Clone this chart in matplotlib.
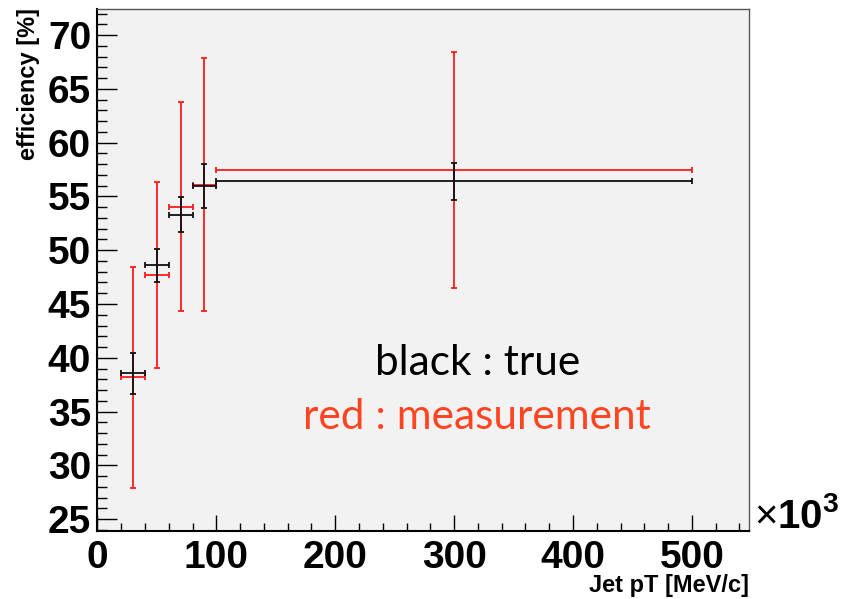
import numpy as np
import matplotlib
matplotlib.use("Agg")
import matplotlib.pyplot as plt
from matplotlib.ticker import MultipleLocator

plt.rcParams['font.family'] = ['Liberation Sans', 'DejaVu Sans']
plt.rcParams['mathtext.fontset'] = 'custom'
plt.rcParams['mathtext.rm'] = 'Liberation Sans'
plt.rcParams['mathtext.bf'] = 'Liberation Sans:bold'

# bin centres and half widths (Jet pT, in units of 10^3 MeV/c)
pt_center = [30, 50, 70, 90, 300]
pt_halfwidth = [10, 10, 10, 10, 200]

# black : true efficiency [%]
true_eff = [38.55, 48.6, 53.3, 55.96, 56.4]
true_err = [1.92, 1.55, 1.61, 2.05, 1.74]

# red : measured efficiency [%]
meas_eff = [38.18, 47.72, 54.05, 56.1, 57.45]
meas_err = [10.28, 8.65, 9.7, 11.73, 10.98]

fig = plt.figure(figsize=(8.41, 5.99), dpi=100)
ax = fig.add_axes([0.1159, 0.1127, 0.7747, 0.8731])
ax.set_facecolor('#f2f2f2')

ax.errorbar(pt_center, meas_eff, xerr=pt_halfwidth, yerr=meas_err, fmt='none',
            ecolor='#ff1a1a', elinewidth=1.3, capsize=2.2, capthick=1.3)
ax.errorbar(pt_center, true_eff, xerr=pt_halfwidth, yerr=true_err, fmt='none',
            ecolor='#111111', elinewidth=1.3, capsize=2.2, capthick=1.3)

ax.set_xlim(0, 548)
ax.set_ylim(23.85, 72.47)

ax.xaxis.set_major_locator(MultipleLocator(100))
ax.xaxis.set_minor_locator(MultipleLocator(20))
ax.yaxis.set_major_locator(MultipleLocator(5))
ax.yaxis.set_minor_locator(MultipleLocator(1))

ax.tick_params(axis='both', which='both', direction='in', top=False, right=False,
               colors='black', width=1.0)
ax.tick_params(axis='y', which='major', length=14.5, pad=4.5)
ax.tick_params(axis='y', which='minor', length=7.5)
ax.tick_params(axis='x', which='major', length=11.5, pad=6)
ax.tick_params(axis='x', which='minor', length=6)

for lab in ax.get_xticklabels() + ax.get_yticklabels():
    lab.set_fontsize(28)
    lab.set_fontweight('bold')

for side in ['left', 'bottom']:
    ax.spines[side].set_linewidth(1.5)
    ax.spines[side].set_color('black')
for side in ['top', 'right']:
    ax.spines[side].set_linewidth(1.0)
    ax.spines[side].set_color('#555555')

fig.text(0.0333, 0.9866, 'efficiency [%]', rotation=90, ha='center', va='top',
         fontsize=17, fontweight='bold')
fig.text(0.8906, 0.0117, 'Jet pT [MeV/c]', ha='right', va='baseline',
         fontsize=17, fontweight='bold')
fig.text(0.897, 0.118, r'$\times\mathbf{10^{3}}$', ha='left', va='baseline',
         fontsize=29)

ax.text(0.583, 0.3, 'black : true', transform=ax.transAxes, ha='center',
        va='baseline', fontsize=30.5, family='Lato', color='black')
ax.text(0.583, 0.196, 'red : measurement', transform=ax.transAxes, ha='center',
        va='baseline', fontsize=30.5, family='Lato', color='#ff4422')

fig.savefig('out.png', dpi=100)
